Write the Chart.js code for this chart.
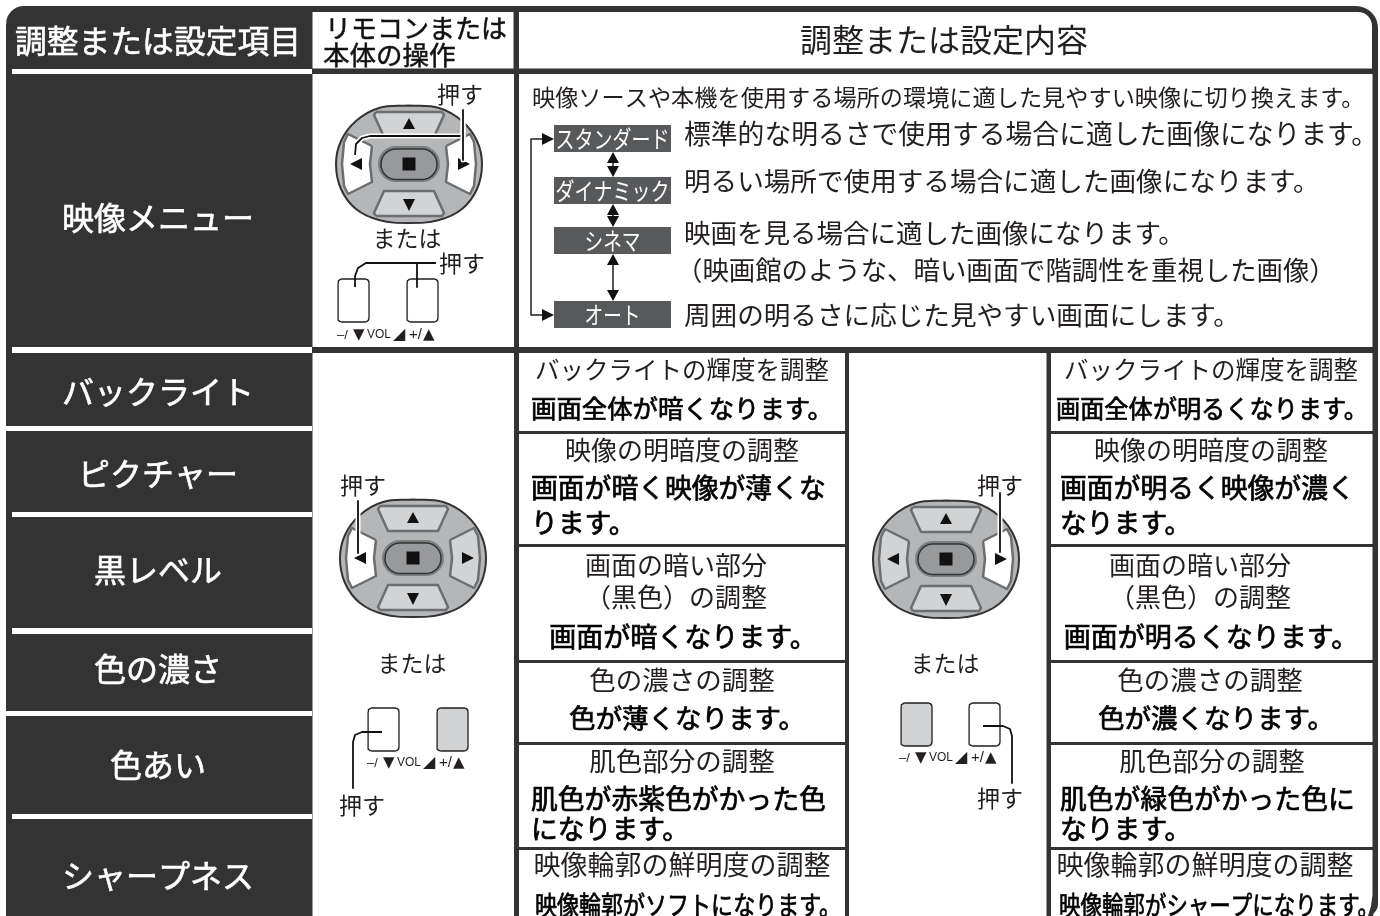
<!DOCTYPE html>
<html lang="ja">
<head>
<meta charset="utf-8">
<title>映像メニュー</title>
<style>
  html, body { margin: 0; padding: 0; background: #fff; }
  canvas { display: block; }
</style>
<script src="https://cdn.jsdelivr.net/npm/chart.js@4/dist/chart.umd.min.js"></script>
</head>
<body>
<canvas id="menuChart" width="1380" height="916"></canvas>
<script>
// Table contents
const settingNames = ['映像メニュー', 'バックライト', 'ピクチャー', '黒レベル', '色の濃さ', '色あい', 'シャープネス'];
const settingNameY = [218, 392, 474, 570, 669, 765, 876];
const sourceModes = ['スタンダード', 'ダイナミック', 'シネマ', 'オート'];
const modeTop = [125, 177, 227, 301];
const modeBottom = [152, 204, 254, 328];
const modeWidths = [114, 114, 56, 56];
const modeNotes = [
  '標準的な明るさで使用する場合に適した画像になります。',
  '明るい場所で使用する場合に適した画像になります。',
  '映画を見る場合に適した画像になります。',
  '（映画館のような、暗い画面で階調性を重視した画像）',
  '周囲の明るさに応じた見やすい画面にします。'
];
const modeNoteY = [134, 181, 233, 270, 315];
const modeNoteSize = [26.8, 26.6, 26.5, 26.4, 26.6];
const adjustTitles = [
  ['バックライトの輝度を調整'],
  ['映像の明暗度の調整'],
  ['画面の暗い部分', '（黒色）の調整'],
  ['色の濃さの調整'],
  ['肌色部分の調整'],
  ['映像輪郭の鮮明度の調整']
];
const adjustTitleY = [[370], [450], [565, 597], [680], [761], [865]];
const adjustTitleSize = [24.5, 26, 26, 26.5, 26.5, 27];
const lowResults = [
  ['画面全体が暗くなります。'],
  ['画面が暗く映像が薄くな', 'ります。'],
  ['画面が暗くなります。'],
  ['色が薄くなります。'],
  ['肌色が赤紫色がかった色', 'になります。'],
  ['映像輪郭がソフトになります。']
];
const highResults = [
  ['画面全体が明るくなります。'],
  ['画面が明るく映像が濃く', 'なります。'],
  ['画面が明るくなります。'],
  ['色が濃くなります。'],
  ['肌色が緑色がかった色に', 'なります。'],
  ['映像輪郭がシャープになります。']
];
const resultY = [[408], [488, 523], [637], [718], [799, 829], [905]];
const resultSize = [25.5, 26.8, 27, 26.5, 26.8, 26];
const titleLeftX = [682, 682, 676, 682, 682, 682];
const titleRightX = [1211, 1211, 1200, 1210, 1212, 1205];
const lowCenterX = [682, 678, 683, 687, 678, 688];
const highCenterX = [1212, 1206, 1211, 1216, 1206, 1219];
const lowWidest = [302, 0, 270, 239, 0, 306];
const highWidest = [312, 0, 297, 239, 0, 320];

// Table grid, in the units of the two axes
const nameDividers = [[69, 74, 12], [347, 353, 12], [426, 431, 6], [512, 517, 12], [628, 634, 12], [711, 716, 6], [814, 819, 12]];
const rowLines = [432, 545, 661, 743, 848];

const DARK = '#333333';
const GREY = '#58595b';
const FONT = '"Noto Sans CJK JP", "Noto Sans", sans-serif';
const SMALL_FONT = '"Liberation Sans", sans-serif';
const SYMBOL_FONT = '"DejaVu Sans", sans-serif';

const datasets = [];
const labels = [];

// one closed or open outline on the chart's scales
function shape(points, opts) {
  opts = opts || {};
  datasets.push({
    type: 'line',
    data: points.map(p => ({ x: p[0], y: p[1] })),
    fill: opts.fill ? 'shape' : false,
    backgroundColor: opts.fill || 'transparent',
    borderColor: opts.line || 'transparent',
    borderWidth: opts.width || 0,
    borderCapStyle: 'butt',
    borderJoinStyle: 'round',
    tension: opts.tension || 0,
    pointRadius: 0,
    pointHoverRadius: 0,
    order: -datasets.length
  });
}

function rect(x0, y0, x1, y1, color) {
  shape([[x0, y0], [x1, y0], [x1, y1], [x0, y1], [x0, y0]], { fill: color });
}

function arc(cx, cy, r, from, to) {
  const pts = [];
  for (let i = 0; i <= 8; i++) {
    const a = (from + (to - from) * i / 8) * Math.PI / 180;
    pts.push([cx + r * Math.cos(a), cy + r * Math.sin(a)]);
  }
  return pts;
}

function roundBox(x0, y0, x1, y1, r) {
  const pts = [].concat(
    arc(x0 + r, y0 + r, r, 180, 270),
    arc(x1 - r, y0 + r, r, 270, 360),
    arc(x1 - r, y1 - r, r, 0, 90),
    arc(x0 + r, y1 - r, r, 90, 180)
  );
  pts.push(pts[0]);
  return pts;
}

function text(str, x, y, size, opts) {
  labels.push(Object.assign({ str, x, y, size, weight: 400, color: '#231f20', align: 'left' }, opts));
}

// Four way pad, white marks the side that is pressed
function remotePad(cx, cy, whiteLeft, whiteRight) {
  const at = list => list.map(p => [cx + p[0], cy + p[1]]);
  const mirrorX = list => list.map(p => [-p[0], p[1]]);
  const mirrorY = list => list.map(p => [p[0], -p[1]]);

  const outer = [[0, -58.5], [30, -56], [53, -43], [68, -23], [73, 0], [68, 25], [53, 45], [30, 56], [0, 59],
    [-30, 56], [-53, 45], [-68, 25], [-73, 0], [-68, -23], [-53, -43], [-30, -56], [0, -58.5]];
  shape(at(outer), { fill: '#b4b6b8', line: DARK, width: 2, tension: 0.4 });

  const upKey = [[-33, -52], [33, -52], [35, -49], [25, -27], [-25, -27], [-35, -49], [-33, -52]];
  const rightKey = [[37, -18], [61, -30], [65, -22], [67, 0], [65, 22], [61, 30], [37, 18], [39, 0], [37, -18]];
  shape(at(upKey), { fill: '#d1d3d4', line: '#6d6e70', width: 2.5 });
  shape(at(mirrorY(upKey)), { fill: '#d1d3d4', line: '#6d6e70', width: 2.5 });
  shape(at(rightKey), { fill: whiteRight ? '#ffffff' : '#d1d3d4', line: '#6d6e70', width: 2.5 });
  shape(at(mirrorX(rightKey)), { fill: whiteLeft ? '#ffffff' : '#d1d3d4', line: '#6d6e70', width: 2.5 });

  // centre button
  shape(roundBox(cx - 31, cy - 18, cx + 31, cy + 18, 18), { fill: '#7d7e80' });
  shape(roundBox(cx - 28, cy - 15, cx + 28, cy + 15.5, 15), { fill: '#97999b', line: DARK, width: 1.5 });
  rect(cx - 6.5, cy - 6.5, cx + 6.5, cy + 6.5, '#111111');

  const black = '#111111';
  shape(at([[-6, -35], [6, -35], [0, -46], [-6, -35]]), { fill: black });
  shape(at([[-6, 35], [6, 35], [0, 47], [-6, 35]]), { fill: black });
  shape(at([[-47, -6], [-47, 6], [-59, 0], [-47, -6]]), { fill: black });
  shape(at([[49, -6], [49, 6], [61, 0], [49, -6]]), { fill: black });
}

function pushLine(points, halo) {
  if (halo) shape(points, { line: '#ffffff', width: 5 });
  shape(points, { line: '#111111', width: 1.8 });
}

function volumeKeys(leftX, rightX, top, labelX, labelY, shadeLeft, shadeRight) {
  const bottom = top + 43;
  shape(roundBox(leftX, top, leftX + 31, bottom, 4), { fill: shadeLeft ? '#d1d3d4' : '#ffffff', line: '#231f20', width: 1.3 });
  shape(roundBox(rightX, top, rightX + 31, bottom, 4), { fill: shadeRight ? '#d1d3d4' : '#ffffff', line: '#231f20', width: 1.3 });
  text('–/', labelX, labelY, 13, { font: SMALL_FONT });
  text('▼', labelX + 16, labelY, 15, { font: SYMBOL_FONT });
  text('VOL', labelX + 30, labelY, 12, { font: SMALL_FONT });
  text('◢', labelX + 56, labelY, 16, { font: SYMBOL_FONT });
  text('+/', labelX + 72, labelY, 15, { font: SMALL_FONT });
  text('▲', labelX + 86, labelY, 15, { font: SYMBOL_FONT });
}

// ---- outer frame ----
shape([].concat(
  arc(24, 24, 18, 180, 270),
  arc(1356, 28, 22, 270, 360),
  arc(1366, 904, 12, 0, 50),
  [[1373, 916], [6, 916], [6, 24]]
), { fill: DARK });

// header and body cells
rect(312.5, 12, 513.5, 68.5, '#ffffff');
shape([].concat(
  [[519, 12]],
  arc(1358, 26, 14, 270, 360),
  [[1372, 68.5], [519, 68.5], [519, 12]]
), { fill: '#ffffff' });
rect(312.5, 74, 514, 347, '#ffffff');
rect(519, 74, 1372.5, 347, '#ffffff');
rect(312.5, 353, 514, 916, '#ffffff');
rect(849, 353, 1046.5, 916, '#ffffff');

const columnSpans = [[519, 845], [1051, 1372.5]];
const rowStarts = [353].concat(rowLines.map(y => y + 2));
const rowEnds = rowLines.map(y => y - 1).concat([916]);
columnSpans.forEach((span, c) => {
  rowStarts.forEach((y0, r) => {
    if (c === 1 && r === 5) {
      shape([[span[0], y0], [span[1], y0], [span[1], 895], [1371, 906], [1368, 916], [span[0], 916], [span[0], y0]], { fill: '#ffffff' });
    } else {
      rect(span[0], y0, span[1], rowEnds[r], '#ffffff');
    }
  });
});

nameDividers.forEach(d => rect(d[2], d[0], 312, d[1], '#ffffff'));

// ---- left column and headers ----
settingNames.forEach((name, i) => {
  text(name, 158, settingNameY[i], 32, { color: '#ffffff', align: 'center', stroke: 0.6 });
});
text('調整または設定項目', 15, 41, 32, { color: '#ffffff', maxWidth: 286, stroke: 0.6 });
text('リモコンまたは', 325, 28, 26, { color: '#111111', stroke: 0.5 });
text('本体の操作', 323, 55, 26.5, { color: '#111111', stroke: 0.5 });
text('調整または設定内容', 944, 40, 32, { align: 'center' });

// ---- picture mode block ----
text('映像ソースや本機を使用する場所の環境に適した見やすい映像に切り換えます。', 532, 97, 23.2);
sourceModes.forEach((mode, i) => {
  rect(554, modeTop[i], 671, modeBottom[i], GREY);
  text(mode, 612.5, (modeTop[i] + modeBottom[i]) / 2, 24, { color: '#ffffff', align: 'center', maxWidth: modeWidths[i] });
});
modeNotes.forEach((note, i) => {
  text(note, i === 3 ? 676 : 684, modeNoteY[i], modeNoteSize[i]);
});

// loop line on the left of the modes
shape([[543, 139], [531, 139], [531, 315], [543, 315]], { line: '#231f20', width: 1.5 });
shape([[542, 133], [554, 139], [542, 145], [542, 133]], { fill: '#111111' });
shape([[542, 309], [554, 315], [542, 321], [542, 309]], { fill: '#111111' });

// double arrows between the modes
for (let i = 0; i < 3; i++) {
  const top = modeBottom[i];
  const bottom = modeTop[i + 1];
  shape([[613, top + 6], [613, bottom - 6]], { line: '#231f20', width: 1.5 });
  shape([[607, top + 11], [619, top + 11], [613, top], [607, top + 11]], { fill: '#111111' });
  shape([[607, bottom - 11], [619, bottom - 11], [613, bottom], [607, bottom - 11]], { fill: '#111111' });
}

// ---- adjustment rows ----
adjustTitles.forEach((lines, r) => {
  lines.forEach((line, k) => {
    text(line, titleLeftX[r], adjustTitleY[r][k], adjustTitleSize[r], { align: 'center' });
    text(line, titleRightX[r], adjustTitleY[r][k], adjustTitleSize[r], { align: 'center' });
  });
});
function resultColumn(rows, leftX, centers, widest) {
  rows.forEach((lines, r) => {
    lines.forEach((line, k) => {
      const opts = { color: '#000000', stroke: 0.7 };
      if (lines.length > 1) {
        text(line, leftX, resultY[r][k], resultSize[r], opts);
      } else {
        opts.align = 'center';
        opts.maxWidth = widest[r];
        text(line, centers[r], resultY[r][k], resultSize[r], opts);
      }
    });
  });
}
resultColumn(lowResults, 531, lowCenterX, lowWidest);
resultColumn(highResults, 1060, highCenterX, highWidest);

// ---- remote controls ----
remotePad(409, 164, true, true);
pushLine([[463, 110], [463, 136], [370, 136], [362, 138], [356, 144], [355, 155]], true);
pushLine([[463, 110], [463, 160]], true);
text('押す', 460, 94, 23, { align: 'center' });
text('または', 407, 238, 23, { align: 'center' });
text('押す', 462, 263, 23, { align: 'center' });
volumeKeys(338, 407, 279, 337, 335, false, false);
pushLine([[355, 287], [355, 276], [358, 268], [366, 263], [436, 263]]);
pushLine([[417, 263], [417, 287]]);

remotePad(413, 558, true, false);
pushLine([[358, 501], [358, 553]], true);
text('押す', 363, 485, 23, { align: 'center' });
text('または', 412, 663, 23, { align: 'center' });
volumeKeys(368, 437, 708, 367, 763, false, true);
pushLine([[382, 732], [362, 732], [355, 735], [353, 742], [353, 788]]);
text('押す', 362, 805, 23, { align: 'center' });

remotePad(946, 559, false, true);
pushLine([[1000, 493], [1000, 552]], true);
text('押す', 1000, 485, 23, { align: 'center' });
text('または', 945, 663, 23, { align: 'center' });
volumeKeys(901, 969, 703, 899, 758, true, false);
pushLine([[983, 726], [1003, 726], [1010, 729], [1012, 736], [1012, 783]]);
text('押す', 1000, 798, 23, { align: 'center' });

// Text goes on top of all marks, placed through the same scales
const tableText = {
  id: 'tableText',
  afterDatasetsDraw(chart) {
    const { ctx, scales } = chart;
    ctx.save();
    ctx.textBaseline = 'middle';
    labels.forEach(t => {
      ctx.font = t.weight + ' ' + t.size + 'px ' + (t.font || FONT);
      ctx.fillStyle = t.color;
      ctx.textAlign = t.align;
      const px = scales.x.getPixelForValue(t.x);
      const py = scales.y.getPixelForValue(t.y);
      if (t.stroke) {
        ctx.strokeStyle = t.color;
        ctx.lineWidth = t.stroke;
        if (t.maxWidth) ctx.strokeText(t.str, px, py, t.maxWidth);
        else ctx.strokeText(t.str, px, py);
      }
      if (t.maxWidth) ctx.fillText(t.str, px, py, t.maxWidth);
      else ctx.fillText(t.str, px, py);
    });
    ctx.restore();
  }
};

document.addEventListener('DOMContentLoaded', function () {
  new Chart(document.getElementById('menuChart'), {
    type: 'line',
    data: { datasets: datasets },
    plugins: [tableText],
    options: {
      responsive: false,
      animation: false,
      events: [],
      layout: { padding: 0 },
      plugins: { legend: { display: false }, tooltip: { enabled: false } },
      scales: {
        x: { type: 'linear', min: 0, max: 1380, display: false },
        y: { type: 'linear', min: 0, max: 916, reverse: true, display: false }
      }
    }
  });
});
</script>
</body>
</html>
